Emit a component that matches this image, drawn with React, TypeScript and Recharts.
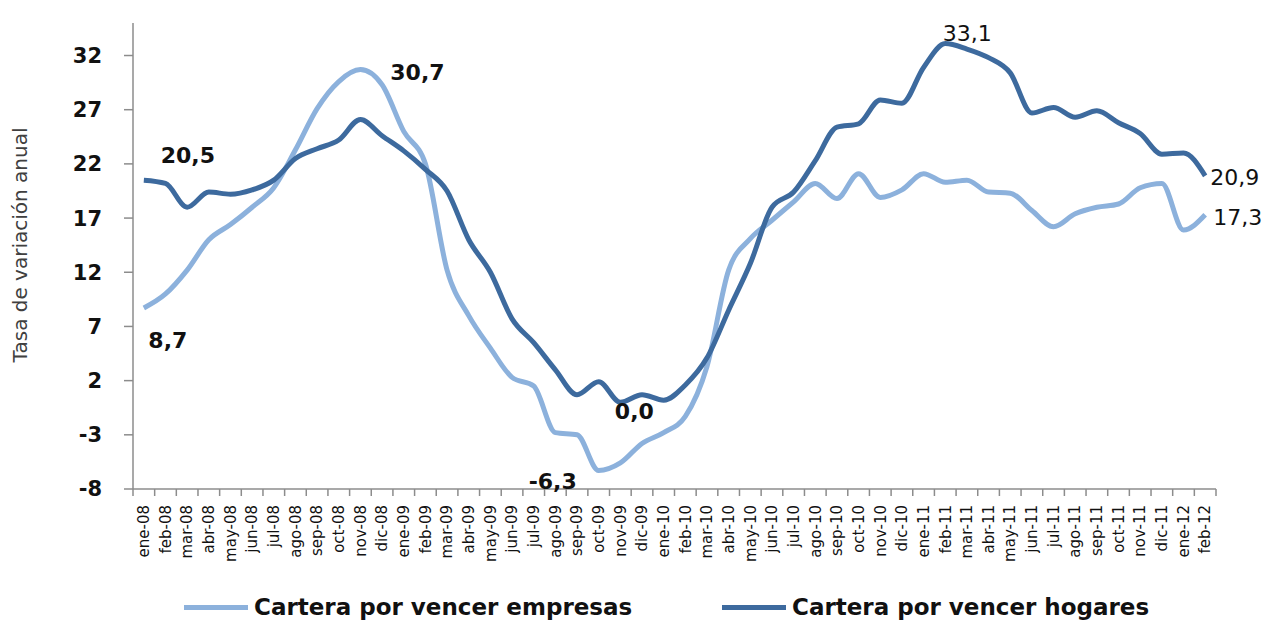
import React from "react";
import { LineChart, Line, XAxis, YAxis, Legend, LabelList } from "recharts";

const meses = [
  "ene-08", "feb-08", "mar-08", "abr-08", "may-08", "jun-08", "jul-08", "ago-08", "sep-08", "oct-08", "nov-08", "dic-08",
  "ene-09", "feb-09", "mar-09", "abr-09", "may-09", "jun-09", "jul-09", "ago-09", "sep-09", "oct-09", "nov-09", "dic-09",
  "ene-10", "feb-10", "mar-10", "abr-10", "may-10", "jun-10", "jul-10", "ago-10", "sep-10", "oct-10", "nov-10", "dic-10",
  "ene-11", "feb-11", "mar-11", "abr-11", "may-11", "jun-11", "jul-11", "ago-11", "sep-11", "oct-11", "nov-11", "dic-11",
  "ene-12", "feb-12",
];

const empresas = [
  8.7, 10.0, 12.2, 15.0, 16.4, 18.0, 19.8, 23.3, 27.1, 29.6, 30.7, 29.3,
  25.0, 22.0, 12.2, 8.0, 5.0, 2.3, 1.5, -2.8, -3.0, -6.3, -5.6, -3.8,
  -2.8, -1.3, 3.3, 12.2, 15.1, 16.8, 18.5, 20.2, 18.8, 21.1, 18.9, 19.6,
  21.1, 20.3, 20.5, 19.4, 19.3, 17.7, 16.2, 17.4, 18.0, 18.3, 19.8, 20.2,
  15.9, 17.3,
];

const hogares = [
  20.5, 20.2, 18.0, 19.4, 19.2, 19.6, 20.5, 22.5, 23.4, 24.2, 26.1, 24.6,
  23.2, 21.5, 19.5, 15.0, 12.0, 7.7, 5.5, 3.0, 0.7, 1.9, 0.0, 0.7,
  0.2, 1.6, 4.1, 8.5, 12.8, 18.0, 19.4, 22.3, 25.4, 25.7, 27.9, 27.6,
  30.9, 33.1, 32.6, 31.8, 30.4, 26.7, 27.2, 26.3, 26.9, 25.8, 24.8, 22.9,
  23.0, 20.9,
];

const yTicks = [-8, -3, 2, 7, 12, 17, 22, 27, 32];

const datos = meses.map((mes, i) => ({ i, mes, empresas: empresas[i], hogares: hogares[i] }));
const bordes = meses.map((_, i) => i - 0.5).concat([meses.length - 0.5]);

const CLARO = "#8cb1dc";
const OSCURO = "#3d6a9e";
const GRIS = "#8c8c8c";
const PASO = (1216 - 133) / meses.length;

// dx, dy, anchor, bold
const posEmpresas: Record<number, [number, number, string, boolean]> = {
  0: [24, 32, "middle", true],
  10: [57, 3, "middle", true],
  21: [-46, 11, "middle", true],
  49: [8, 3, "start", false],
};
const posHogares: Record<number, [number, number, string, boolean]> = {
  0: [44, -25, "middle", true],
  22: [14, 9, "middle", true],
  37: [22, -10, "middle", false],
  49: [5, 2, "start", false],
};

const fmt = (v: number) => v.toFixed(1).replace(".", ",");

const etiqueta = (pos: Record<number, [number, number, string, boolean]>) => (props: any) => {
  const { x, y, value, index } = props;
  const p = pos[index];
  if (!p) return null;
  return (
    <text
      x={x + p[0]}
      y={y + p[1]}
      textAnchor={p[2]}
      dominantBaseline="central"
      fontSize={22}
      fontWeight={p[3] ? "bold" : "normal"}
      fontFamily="DejaVu Sans"
      fill="#111"
    >
      {fmt(value)}
    </text>
  );
};

const TickMes = (props: any) => {
  const { x, y, index } = props;
  const mes = meses[index];
  return (
    <g>
      <line x1={x} y1={y} x2={x} y2={y + 7} stroke={GRIS} strokeWidth={1.5} />
      {mes && (
        <text
          transform={`translate(${x + PASO / 2}, ${y + 16}) rotate(-90)`}
          textAnchor="end"
          dy="0.35em"
          fontSize={15}
          fontFamily="DejaVu Sans"
          fill="#111"
        >
          {mes}
        </text>
      )}
    </g>
  );
};

const EtiquetaY = (props: any) => {
  const vb = props.viewBox || { y: 23, height: 466 };
  const cx = 20;
  const cy = vb.y + vb.height / 2 - 11;
  return (
    <text
      x={cx}
      y={cy}
      transform={`rotate(-90, ${cx}, ${cy})`}
      textAnchor="middle"
      dominantBaseline="central"
      fontSize={20}
      fontFamily="DejaVu Sans"
      fill="#404040"
    >
      Tasa de variación anual
    </text>
  );
};

const Leyenda = () => (
  <div style={{ position: "relative", height: 34, fontFamily: "DejaVu Sans", fontWeight: "bold", fontSize: 23, color: "#111" }}>
    {[
      { left: 184, color: CLARO, text: "Cartera por vencer empresas" },
      { left: 722, color: OSCURO, text: "Cartera por vencer hogares" },
    ].map((it) => (
      <div key={it.text} style={{ position: "absolute", left: it.left, top: 0, height: 34, display: "flex", alignItems: "center", whiteSpace: "nowrap" }}>
        <span style={{ display: "inline-block", width: 64, height: 5, background: it.color, marginRight: 6 }} />
        <span>{it.text}</span>
      </div>
    ))}
  </div>
);

export default function App() {
  return (
    <div style={{ position: "absolute", left: 0, top: 0, width: 1279, height: 624, background: "#fff" }}>
      <LineChart width={1279} height={624} data={datos} margin={{ top: 23, right: 63, left: 0, bottom: 0 }}>
        <XAxis
          dataKey="i"
          type="number"
          domain={[-0.5, meses.length - 0.5]}
          ticks={bordes}
          interval={0}
          tickSize={0}
          tickMargin={0}
          tickLine={false}
          tick={<TickMes />}
          height={101}
          axisLine={{ stroke: GRIS, strokeWidth: 1.5 }}
          allowDataOverflow
        />
        <YAxis
          type="number"
          domain={[-8, 35]}
          ticks={yTicks}
          interval={0}
          width={133}
          tickSize={9}
          tickMargin={22}
          tickLine={{ stroke: GRIS, strokeWidth: 1.5 }}
          axisLine={{ stroke: GRIS, strokeWidth: 1.5 }}
          tick={{ fontSize: 21, fontWeight: "bold", fill: "#111", fontFamily: "DejaVu Sans" }}
          label={<EtiquetaY />}
          allowDataOverflow
        />
        <Legend verticalAlign="bottom" content={<Leyenda />} />
        <Line
          type="monotone"
          dataKey="empresas"
          stroke={CLARO}
          strokeWidth={5}
          dot={false}
          isAnimationActive={false}
        >
          <LabelList dataKey="empresas" content={etiqueta(posEmpresas)} />
        </Line>
        <Line
          type="monotone"
          dataKey="hogares"
          stroke={OSCURO}
          strokeWidth={5}
          dot={false}
          isAnimationActive={false}
        >
          <LabelList dataKey="hogares" content={etiqueta(posHogares)} />
        </Line>
      </LineChart>
    </div>
  );
}
